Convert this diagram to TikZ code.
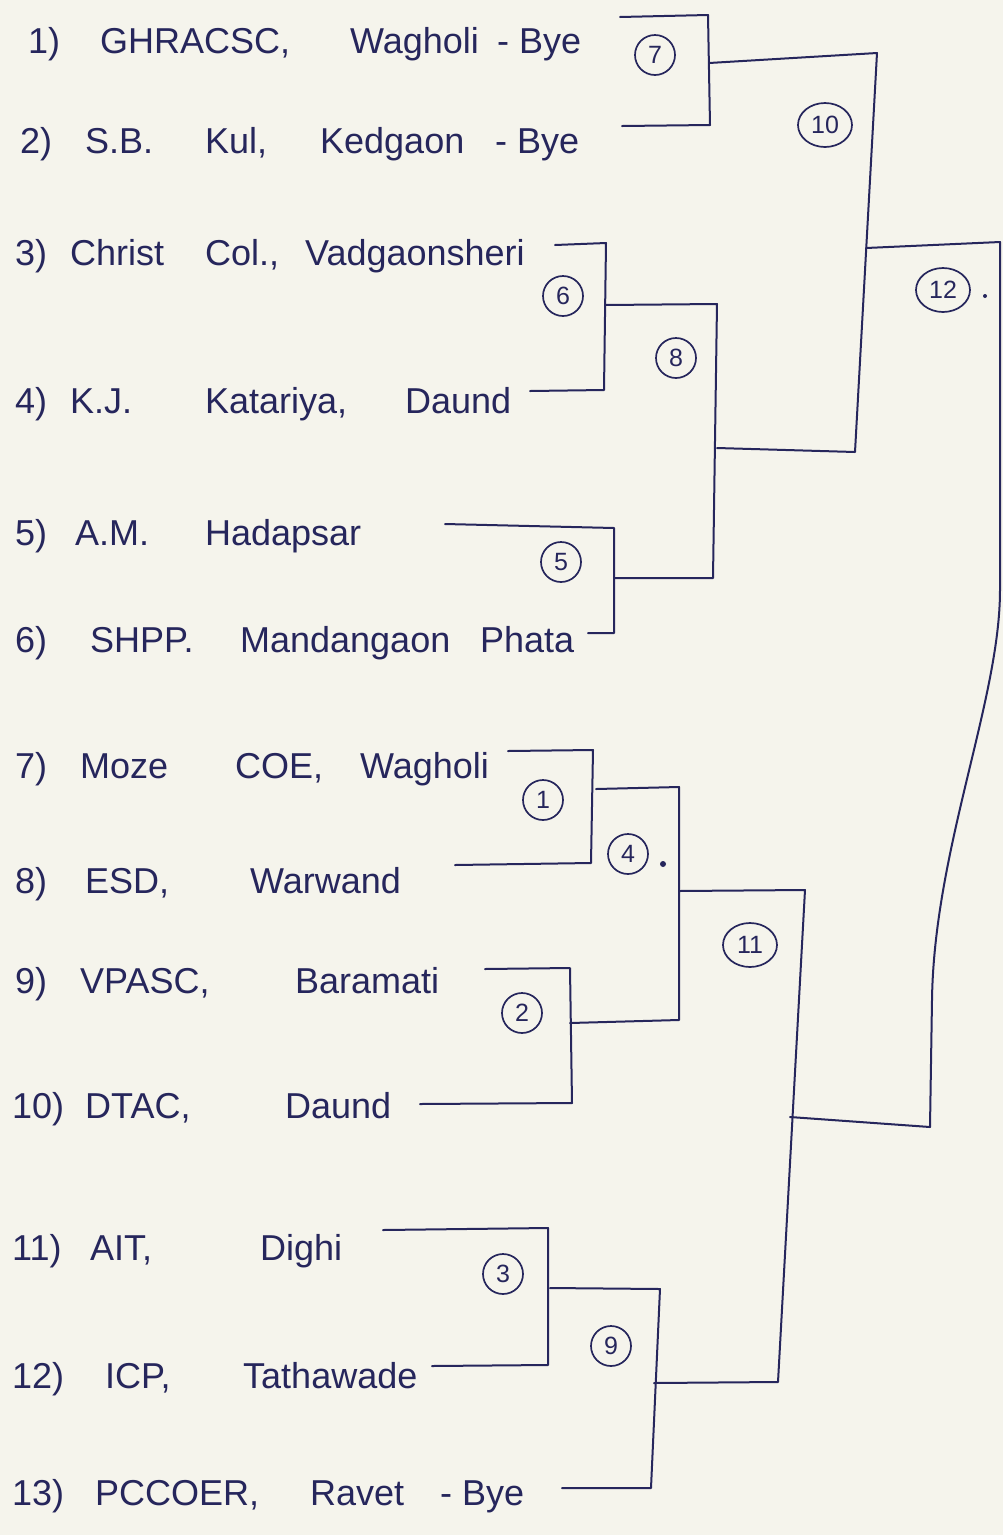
\documentclass[tikz,border=0pt]{standalone}
\usepackage{fontspec}
\setmainfont{Liberation Sans}
\usetikzlibrary{shapes.geometric}
\definecolor{paper}{RGB}{245,244,236}
\definecolor{ink}{RGB}{38,38,92}
\newcommand{\wrd}[2]{\makebox[#1pt][l]{#2}}
\tikzset{
  team/.style={anchor=base west, inner sep=0pt, text=ink, font=\fontsize{36}{42}\selectfont},
  rnd/.style={draw=ink, line width=1.7pt, circle, minimum size=40pt, inner sep=0pt, text=ink, font=\fontsize{25}{27}\selectfont},
  rndwide/.style={draw=ink, line width=1.7pt, ellipse, minimum width=54pt, minimum height=44pt, inner sep=0pt, text=ink, font=\fontsize{25}{27}\selectfont},
  wire/.style={draw=ink, line width=2pt, line join=round, line cap=round},
  inkdot/.style={circle, fill=ink, inner sep=0pt, minimum size=6pt},
}
\begin{document}
\begin{tikzpicture}[x=1pt,y=-1pt]
\useasboundingbox (0,0) rectangle (1003,1535);
\fill[paper] (0,0) rectangle (1003,1535);

% ---- team names ----
\node[team] (t1)  at (28,53)   {\wrd{72}{1)}\wrd{250}{GHRACSC,}\wrd{147}{Wagholi}- Bye};
\node[team] (t2)  at (20,153)  {\wrd{65}{2)}\wrd{120}{S.B.}\wrd{115}{Kul,}\wrd{175}{Kedgaon}- Bye};
\node[team] (t3)  at (15,265)  {\wrd{55}{3)}\wrd{135}{Christ}\wrd{100}{Col.,}Vadgaonsheri};
\node[team] (t4)  at (15,413)  {\wrd{55}{4)}\wrd{135}{K.J.}\wrd{200}{Katariya,}Daund};
\node[team] (t5)  at (15,545)  {\wrd{60}{5)}\wrd{130}{A.M.}Hadapsar};
\node[team] (t6)  at (15,652)  {\wrd{75}{6)}\wrd{150}{SHPP.}\wrd{240}{Mandangaon}Phata};
\node[team] (t7)  at (15,778)  {\wrd{65}{7)}\wrd{155}{Moze}\wrd{125}{COE,}Wagholi};
\node[team] (t8)  at (15,893)  {\wrd{70}{8)}\wrd{165}{ESD,}Warwand};
\node[team] (t9)  at (15,993)  {\wrd{65}{9)}\wrd{215}{VPASC,}Baramati};
\node[team] (t10) at (12,1118) {\wrd{73}{10)}\wrd{200}{DTAC,}Daund};
\node[team] (t11) at (12,1260) {\wrd{78}{11)}\wrd{170}{AIT,}Dighi};
\node[team] (t12) at (12,1388) {\wrd{93}{12)}\wrd{138}{ICP,}Tathawade};
\node[team] (t13) at (12,1505) {\wrd{83}{13)}\wrd{215}{PCCOER,}\wrd{130}{Ravet}- Bye};

% ---- match numbers ----
\node[rnd] (m7) at (655,55) {7};
\node[rndwide] (m10) at (825,125) {10};
\node[rnd] (m6) at (563,296) {6};
\node[rnd] (m8) at (676,358) {8};
\node[rnd] (m5) at (561,562) {5};
\node[rndwide] (m12) at (943,290) {12};
\node[inkdot, minimum size=4pt] (d12) at (985,296) {};
\node[rnd] (m1) at (543,800) {1};
\node[rnd] (m4) at (628,854) {4};
\node[inkdot] (d4) at (663,864) {};
\node[rnd] (m2) at (522,1013) {2};
\node[rndwide] (m11) at (750,945) {11};
\node[rnd] (m3) at (503,1274) {3};
\node[rnd] (m9) at (611,1346) {9};

% ---- bracket coordinates ----
\coordinate (s1) at (620,17);   \coordinate (k1) at (708,15);
\coordinate (k2) at (710,125);  \coordinate (s2) at (622,126);
\coordinate (j7) at (709,63);   \coordinate (k10t) at (877,53);
\coordinate (k10b) at (855,452);\coordinate (j8) at (717,448);
\coordinate (j10) at (866,248); \coordinate (k12t) at (1000,242);
\coordinate (k12a) at (1000,590); \coordinate (k12c) at (932,1000);
\coordinate (k12b) at (930,1127);

\coordinate (s3) at (555,245);  \coordinate (k3) at (606,243);
\coordinate (k4) at (604,390);  \coordinate (s4) at (530,391);
\coordinate (j6) at (605,305);  \coordinate (k8t) at (717,304);
\coordinate (s5) at (445,524);  \coordinate (k5) at (614,528);
\coordinate (k6) at (614,633);  \coordinate (s6) at (588,633);
\coordinate (j5) at (614,578);  \coordinate (k8b) at (713,578);

\coordinate (s7) at (508,751);  \coordinate (k7) at (593,750);
\coordinate (k8) at (591,863);  \coordinate (s8) at (455,865);
\coordinate (j1) at (596,789);  \coordinate (k4t) at (679,787);
\coordinate (s9) at (485,969);  \coordinate (k9) at (570,968);
\coordinate (k10) at (572,1103);\coordinate (s10) at (420,1104);
\coordinate (j2) at (570,1023); \coordinate (k4b) at (679,1020);
\coordinate (j4) at (679,891);  \coordinate (k11t) at (805,890);
\coordinate (k11b) at (778,1382); \coordinate (j11) at (790,1117);

\coordinate (s11) at (383,1230); \coordinate (k11a) at (548,1228);
\coordinate (k12s) at (548,1365);\coordinate (s12) at (432,1366);
\coordinate (j3) at (550,1288);  \coordinate (k9t) at (660,1289);
\coordinate (k9b) at (651,1488); \coordinate (s13) at (562,1488);
\coordinate (j9) at (654,1383);

% ---- connectors ----
\draw[wire] (s1) -- (k1) -- (k2) -- (s2);
\draw[wire] (j7) -- (k10t) -- (k10b) -- (j8);
\draw[wire] (j10) -- (k12t) -- (k12a) .. controls (1000,700) and (934,850) .. (k12c) -- (k12b) -- (j11);

\draw[wire] (s3) -- (k3) -- (k4) -- (s4);
\draw[wire] (s5) -- (k5) -- (k6) -- (s6);
\draw[wire] (j6) -- (k8t) -- (k8b) -- (j5);

\draw[wire] (s7) -- (k7) -- (k8) -- (s8);
\draw[wire] (s9) -- (k9) -- (k10) -- (s10);
\draw[wire] (j1) -- (k4t) -- (k4b) -- (j2);
\draw[wire] (j4) -- (k11t) -- (k11b) -- (j9);

\draw[wire] (s11) -- (k11a) -- (k12s) -- (s12);
\draw[wire] (j3) -- (k9t) -- (k9b) -- (s13);
\end{tikzpicture}
\end{document}
